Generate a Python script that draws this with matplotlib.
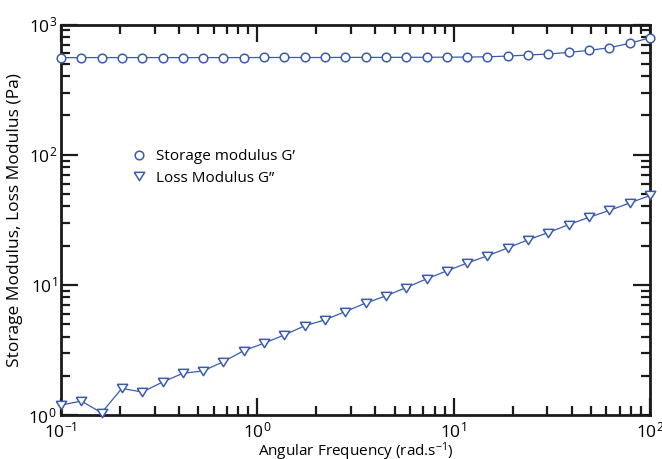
import numpy as np
import matplotlib
matplotlib.use('Agg')
import matplotlib.pyplot as plt
from matplotlib.lines import Line2D
from matplotlib.ticker import LogLocator, NullFormatter, FixedLocator

plt.rcParams['font.family'] = ['Open Sans', 'DejaVu Sans']
plt.rcParams['mathtext.fontset'] = 'custom'
plt.rcParams['mathtext.rm'] = 'Open Sans'
plt.rcParams['mathtext.it'] = 'Open Sans:italic'
plt.rcParams['mathtext.bf'] = 'Open Sans:bold'
plt.rcParams['mathtext.default'] = 'regular'

# angular frequency (rad/s), 30 points per sweep
freq = [0.1, 0.1269, 0.1610, 0.2043, 0.2593, 0.3290, 0.4175, 0.5298, 0.6723, 0.8532,
        1.0826, 1.3738, 1.7433, 2.2122, 2.8072, 3.5622, 4.5204, 5.7362, 7.2790, 9.2367,
        11.721, 14.874, 18.874, 23.950, 30.392, 38.566, 48.939, 62.102, 78.805, 100.0]

# storage modulus G' (Pa)
g_storage = [556, 557, 557, 557, 557, 557, 557, 557, 557, 557,
             558, 558, 558, 558, 559, 559, 559, 560, 560, 561,
             562, 565, 572, 583, 593, 611, 633, 663, 717, 791]

# loss modulus G'' (Pa)
g_loss = [1.19, 1.28, 1.04, 1.60, 1.50, 1.79, 2.09, 2.18, 2.57, 3.12,
          3.56, 4.12, 4.84, 5.38, 6.23, 7.23, 8.23, 9.53, 11.1, 12.8,
          14.7, 16.7, 19.2, 22.2, 25.2, 29.0, 33.0, 37.3, 42.5, 48.6]

xticks = [0.1, 1, 10, 100]
xticklabels = [r'$10^{-1}$', r'$10^{0}$', r'$10^{1}$', r'$10^{2}$']
yticks = [1, 10, 100, 1000]
yticklabels = [r'$10^{0}$', r'$10^{1}$', r'$10^{2}$', r'$10^{3}$']

blue = '#3a5bb0'
tri = [(-1, 0.8), (1, 0.8), (0, -0.8), (-1, 0.8)]

fig = plt.figure(figsize=(6.62, 4.59), dpi=100)
ax = fig.add_axes([0.0921, 0.0959, 0.8897, 0.8507])

ax.plot(freq, g_storage, '-', color=blue, lw=0.9, marker='o', ms=6.2,
        mfc='white', mec=blue, mew=1.1, clip_on=False, zorder=3)
ax.plot(freq, g_loss, '-', color=blue, lw=0.9, marker=tri, ms=7.5,
        mfc='white', mec=blue, mew=1.1, clip_on=False, zorder=3)

ax.set_xscale('log')
ax.set_yscale('log')
ax.set_xlim(0.1, 100)
ax.set_ylim(1, 1000)

ax.xaxis.set_major_locator(FixedLocator(xticks))
ax.yaxis.set_major_locator(FixedLocator(yticks))
ax.set_xticklabels(xticklabels)
ax.set_yticklabels(yticklabels)
ax.xaxis.set_minor_locator(LogLocator(base=10, subs=np.arange(2, 10)))
ax.yaxis.set_minor_locator(LogLocator(base=10, subs=np.arange(2, 10)))
ax.xaxis.set_minor_formatter(NullFormatter())
ax.yaxis.set_minor_formatter(NullFormatter())

for s in ax.spines.values():
    s.set_linewidth(2.0)
    s.set_color('#1a1a1a')
ax.tick_params(which='both', direction='in', top=True, right=True,
               color='#1a1a1a', labelsize=12.5)
ax.tick_params(which='major', length=12.5, width=1.6)
ax.tick_params(which='minor', length=6.5, width=1.6)
ax.tick_params(axis='x', which='major', pad=5)
ax.tick_params(axis='y', which='major', pad=3)

ax.set_xlabel(r'Angular Frequency (rad.s$^{-1}$)', fontsize=11, labelpad=-1)
ax.set_ylabel('Storage Modulus, Loss Modulus (Pa)', fontsize=12.5, labelpad=4)

handles = [Line2D([], [], ls='none', marker='o', ms=6.2, mfc='white', mec=blue, mew=1.1),
           Line2D([], [], ls='none', marker=tri, ms=7.5, mfc='white', mec=blue, mew=1.1)]
ax.legend(handles, ['Storage modulus G\u2019', 'Loss Modulus G\u201d'],
          loc='upper left', bbox_to_anchor=(0.12, 0.68), frameon=False,
          fontsize=11, handlelength=1.0, handletextpad=0.6, labelspacing=0.4,
          borderpad=0, borderaxespad=0)

fig.savefig('out.png', dpi=100)
